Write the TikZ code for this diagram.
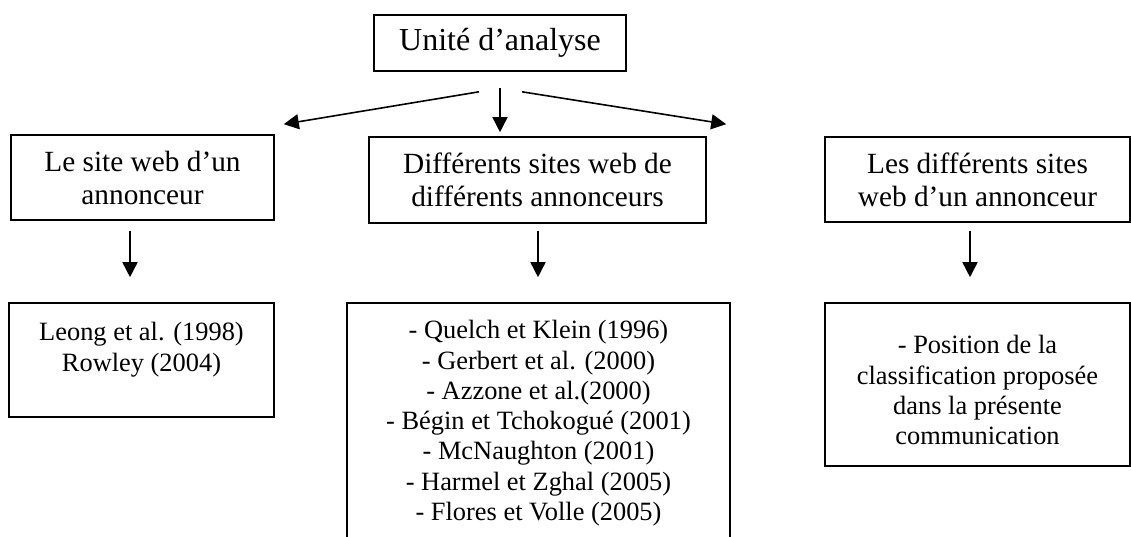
\documentclass[tikz,border=0pt]{standalone}
\usepackage{fontspec}
\setmainfont{Liberation Serif}
\usetikzlibrary{arrows.meta, positioning}

\begin{document}
\begin{tikzpicture}[x=1pt, y=-1pt,
      box/.style={draw, line width=1.6pt, inner sep=0pt, align=center},
      head/.style={box, font=\fontsize{29.3}{33}\selectfont},
      reftext/.style={align=center, inner sep=0pt, anchor=north, font=\fontsize{26.4}{30.3}\selectfont},
      arr/.style={-{Triangle[width=15pt,length=15pt]}, line width=1.6pt}
    ]
      \useasboundingbox (0,0) rectangle (1131,536);
      \node[box, minimum width=252pt, minimum height=56pt, font=\fontsize{32}{36}\selectfont] (unit) at (500,43) {Unité d’analyse};
      \node[head, minimum width=263pt, minimum height=85pt] (one)   at (142.5,177.5) {Le site web d’un\\annonceur};
      \node[head, minimum width=337pt, minimum height=86pt] (many)  at (537.5,180)   {Différents sites web de\\différents annonceurs};
      \node[head, minimum width=305pt, minimum height=85pt] (multi) at (977.5,179.5) {Les différents sites\\web d’un annonceur};
      % reference boxes
      \node[box, minimum width=265pt, minimum height=114pt] (oneref)   at (141.5,360)   {};
      \node[box, minimum width=383pt, minimum height=245pt] (manyref)  at (538.5,425.5) {};
      \node[box, minimum width=305pt, minimum height=163pt] (multiref) at (977.5,384.5) {};
      \node[reftext] (onereftxt) at ([yshift=-20pt]oneref.north) {Leong et al. (1998)\\Rowley (2004)};
      \node[reftext] (manyreftxt) at ([yshift=-18pt]manyref.north) {- Quelch et Klein (1996)\\- Gerbert et al. (2000)\\- Azzone et al.(2000)\\- Bégin et Tchokogué (2001)\\- McNaughton (2001)\\- Harmel et Zghal (2005)\\- Flores et Volle (2005)};
      \node[reftext] (multireftxt) at ([yshift=-33pt]multiref.north) {- Position de la\\classification proposée\\dans la présente\\communication};
      \draw[arr] ([xshift=-21pt,yshift=-20pt]unit.south) -- ([xshift=9pt,yshift=10pt]one.north east);
      \draw[arr] ([yshift=-16pt]unit.south) -- ([yshift=4pt]unit.south |- many.north);
      \draw[arr] ([xshift=22pt,yshift=-20pt]unit.south) -- ([xshift=-98pt,yshift=12pt]multi.north west);
      \draw[arr] ([xshift=-12.5pt,yshift=-10pt]one.south) -- ([xshift=-11.5pt,yshift=25pt]oneref.north);
      \draw[arr] ([xshift=0.5pt,yshift=-7pt]many.south) -- ([xshift=-0.5pt,yshift=25pt]manyref.north);
      \draw[arr] ([xshift=-7.5pt,yshift=-8pt]multi.south) -- ([xshift=-7.5pt,yshift=25pt]multiref.north);
    \end{tikzpicture}
\end{document}
